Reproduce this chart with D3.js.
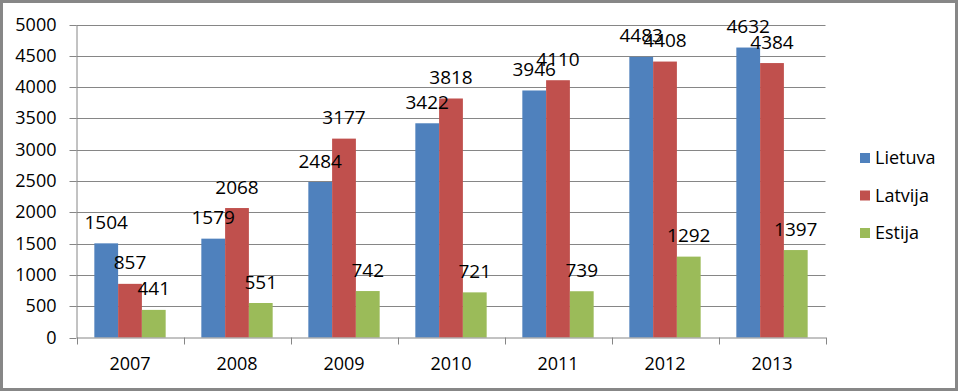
<!DOCTYPE html>
<html>
<head>
<meta charset="utf-8">
<script src="https://cdn.jsdelivr.net/npm/d3@7"></script>
<style>
  body { margin: 0; background: #fff; }
  svg text { font-family: "Open Sans", sans-serif; fill: #000; }
</style>
</head>
<body>
<svg id="chart"></svg>
<script>
// chart data
var years = ["2007", "2008", "2009", "2010", "2011", "2012", "2013"];
var seriesNames = ["Lietuva", "Latvija", "Estija"];
var lietuva = [1504, 1579, 2484, 3422, 3946, 4483, 4632];
var latvija = [857, 2068, 3177, 3818, 4110, 4408, 4384];
var estija = [441, 551, 742, 721, 739, 1292, 1397];
var yTicks = [0, 500, 1000, 1500, 2000, 2500, 3000, 3500, 4000, 4500, 5000];
var colors = ["#4F81BD", "#C0504D", "#9BBB59"];

var width = 958, height = 391;
var gridColor = "#868686";

var svg = d3.select("#chart")
    .attr("width", width)
    .attr("height", height);

// outer frame
svg.append("rect")
    .attr("x", 1.5).attr("y", 1.5)
    .attr("width", width - 3).attr("height", height - 3)
    .attr("fill", "#fff")
    .attr("stroke", "#878787")
    .attr("stroke-width", 3);

var xScale = d3.scaleBand()
    .domain(years)
    .range([76.5, 825.5])
    .paddingInner(0).paddingOuter(0);

var bw = xScale.bandwidth();

// 150% gap width like excel
var sScale = d3.scaleBand()
    .domain(seriesNames)
    .range([bw * 0.75 / 4.5, bw * 3.75 / 4.5]);

var yScale = d3.scaleLinear()
    .domain([0, 5000])
    .range([337.5, 24.5]);

// gridlines
svg.append("g")
    .selectAll("line")
    .data(yTicks.slice(1))
    .enter()
    .append("line")
    .attr("x1", 76.5)
    .attr("x2", 825.5)
    .attr("y1", function(d) { return Math.round(yScale(d)) + 0.5; })
    .attr("y2", function(d) { return Math.round(yScale(d)) + 0.5; })
    .attr("stroke", gridColor)
    .attr("stroke-width", 1);

// build rows for bars
var rows = [];
years.forEach(function(y, i) {
    rows.push({ year: y, name: "Lietuva", value: lietuva[i], c: colors[0] });
    rows.push({ year: y, name: "Latvija", value: latvija[i], c: colors[1] });
    rows.push({ year: y, name: "Estija", value: estija[i], c: colors[2] });
});

svg.append("g")
    .selectAll("rect")
    .data(rows)
    .enter()
    .append("rect")
    .attr("x", function(d) { return xScale(d.year) + sScale(d.name); })
    .attr("y", function(d) { return yScale(d.value); })
    .attr("width", sScale.bandwidth())
    .attr("height", function(d) { return yScale(0) - yScale(d.value); })
    .attr("fill", function(d) { return d.c; });

// y axis
var y_axis = d3.axisLeft(yScale)
    .tickValues(yTicks)
    .tickFormat(d3.format("d"))
    .tickSize(7)
    .tickSizeOuter(0)
    .tickPadding(13);

var yG = svg.append("g")
    .attr("transform", "translate(76.5,0)")
    .call(y_axis);
yG.selectAll("line").attr("stroke", gridColor)
    .attr("transform", function() { return null; });
yG.selectAll(".tick").attr("transform", function(d) {
    return "translate(0," + (Math.round(yScale(d)) + 0.5) + ")";
});
yG.select(".domain").attr("stroke", gridColor);
yG.selectAll("text")
    .attr("font-size", "18px")
    .attr("font-family", "Open Sans, sans-serif")
    .attr("fill", "#000");

// x axis
var x_axis = d3.axisBottom(xScale)
    .tickSize(0)
    .tickSizeOuter(0)
    .tickPadding(20);

var xG = svg.append("g")
    .attr("transform", "translate(0,337.5)")
    .call(x_axis);
xG.select(".domain").attr("stroke", gridColor);
xG.selectAll("text")
    .attr("font-size", "18px")
    .attr("font-family", "Open Sans, sans-serif")
    .attr("fill", "#000");

// tick marks on category boundaries
var bounds = years.map(function(d) { return xScale(d); }).concat([xScale.range()[1]]);
xG.selectAll(".bound")
    .data(bounds)
    .enter()
    .append("line")
    .attr("class", "bound")
    .attr("x1", function(d) { return Math.round(d) + 0.5; })
    .attr("x2", function(d) { return Math.round(d) + 0.5; })
    .attr("y1", 0)
    .attr("y2", 7)
    .attr("stroke", gridColor);

// data labels
svg.append("g")
    .selectAll("text")
    .data(rows)
    .enter()
    .append("text")
    .attr("x", function(d) { return xScale(d.year) + sScale(d.name) + sScale.bandwidth() / 2; })
    .attr("y", function(d) { return yScale(d.value) - 14.5; })
    .attr("text-anchor", "middle")
    .attr("font-size", "19px")
    .text(function(d) { return d.value; });

// legend
var legend = svg.append("g")
    .selectAll("g")
    .data(seriesNames)
    .enter()
    .append("g")
    .attr("transform", function(d, i) { return "translate(860," + (158 + i * 37.5) + ")"; });

legend.append("rect")
    .attr("x", 0).attr("y", -5)
    .attr("width", 10).attr("height", 10)
    .attr("fill", function(d, i) { return colors[i]; });

legend.append("text")
    .attr("x", 15)
    .attr("y", 0)
    .attr("dy", "0.35em")
    .attr("font-size", "18px")
    .text(function(d) { return d; });
</script>
</body>
</html>
